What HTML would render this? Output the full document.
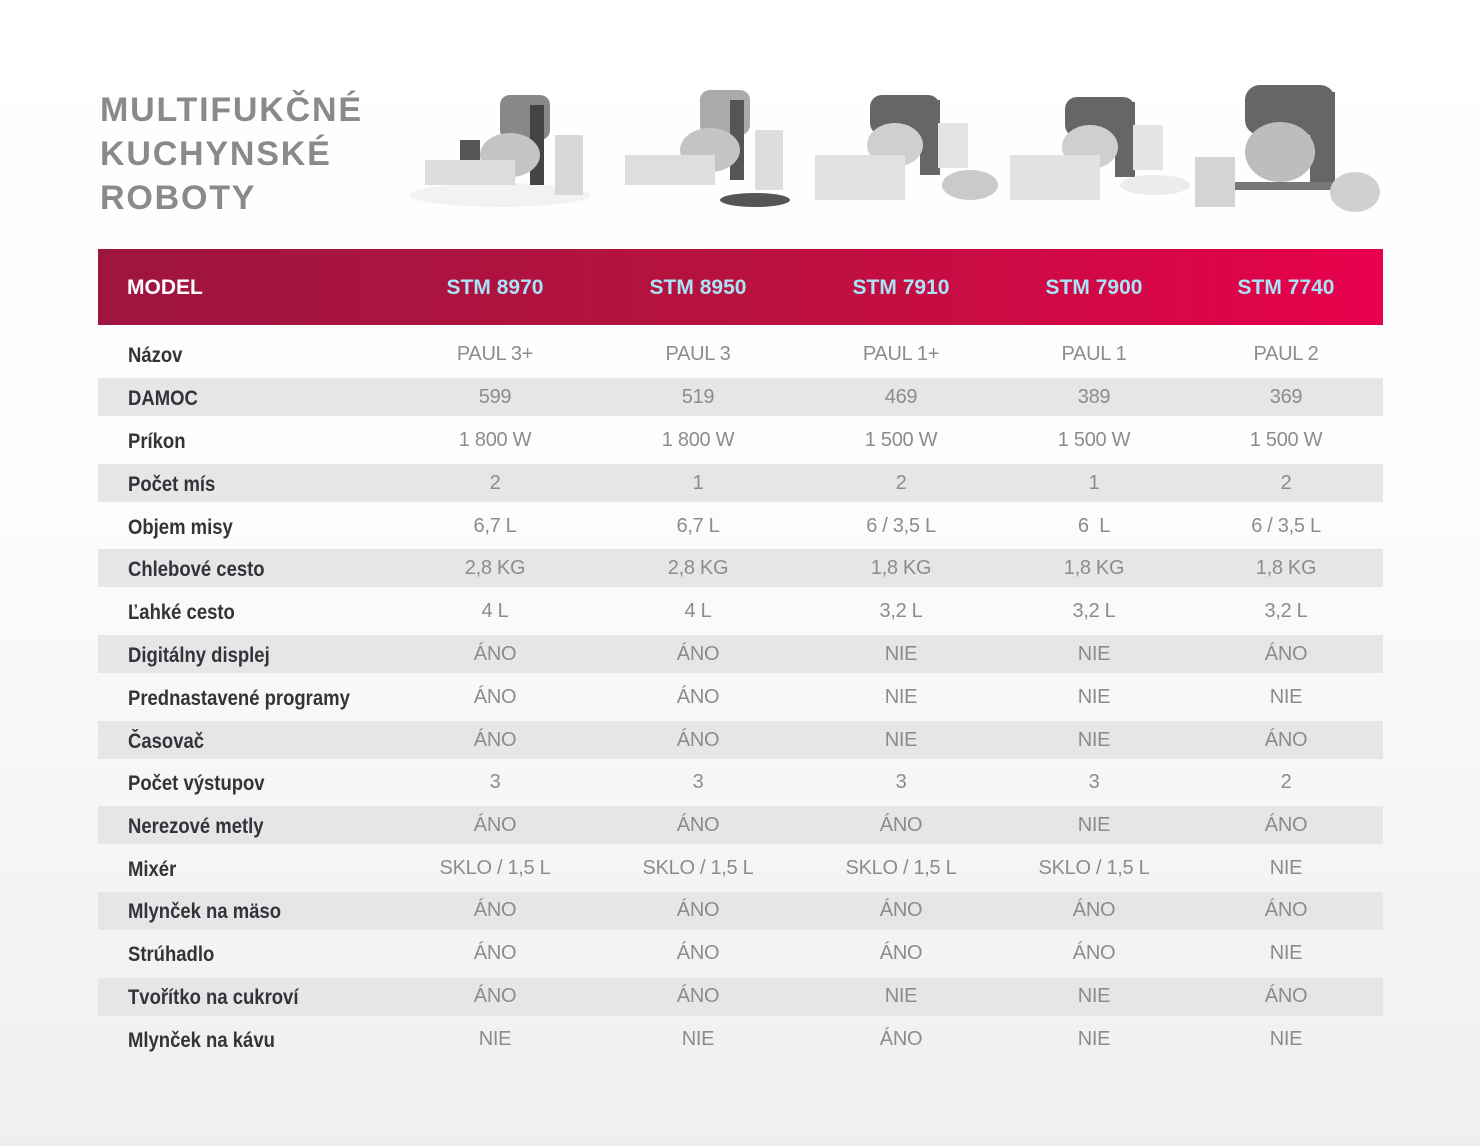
<!DOCTYPE html>
<html><head><meta charset="utf-8"><style>
*{margin:0;padding:0;box-sizing:border-box}
body{width:1480px;height:1146px;overflow:hidden;background:linear-gradient(#ffffff 0%,#fdfdfd 40%,#efefef 100%);font-family:"Liberation Sans",sans-serif;position:relative}
.t{position:absolute;left:100px;color:#8a8a8a;font-weight:bold;font-size:34px;letter-spacing:1.8px;line-height:44px}
.hdr{position:absolute;left:98px;top:249px;width:1285px;height:76px;background:linear-gradient(90deg,#9e1540 0%,#b8123f 50%,#e8004c 100%)}
.hdr div{position:absolute;top:0;line-height:78px;font-weight:bold;font-size:21px;color:#a9e3f7;transform:translateX(-50%)}
.band{position:absolute;left:98px;width:1285px;height:38px;background:#e5e6e7}
.r{position:absolute;left:0;width:1480px;height:30px}
.r .l{position:absolute;left:128px;top:0;font-weight:bold;font-size:21px;color:#333338;line-height:30px;transform:scaleX(0.88);transform-origin:left center;white-space:nowrap}
.r .v{position:absolute;top:-2px;font-size:20px;color:#8c8c8c;transform:translateX(-50%);white-space:nowrap;line-height:30px;letter-spacing:-0.3px}
.img{position:absolute;top:85px}
</style></head><body>
<div class="t" style="top:88px">MULTIFUKČNÉ</div>
<div class="t" style="top:132px">KUCHYNSKÉ</div>
<div class="t" style="top:176px">ROBOTY</div>

<svg class="img" style="left:405px" width="190" height="130"><ellipse cx="95" cy="110" rx="90" ry="12" fill="#f2f2f2"/><rect x="95" y="10" width="50" height="45" rx="10" fill="#888"/><rect x="125" y="20" width="14" height="80" fill="#444"/><ellipse cx="105" cy="70" rx="30" ry="22" fill="#c4c4c4"/><rect x="150" y="50" width="28" height="60" fill="#d8d8d8"/><rect x="55" y="55" width="20" height="25" fill="#555"/><rect x="20" y="75" width="90" height="25" fill="#dcdcdc"/></svg>
<svg class="img" style="left:605px" width="190" height="130"><ellipse cx="150" cy="115" rx="35" ry="7" fill="#555"/><rect x="95" y="5" width="50" height="45" rx="10" fill="#aaa"/><rect x="125" y="15" width="14" height="80" fill="#555"/><ellipse cx="105" cy="65" rx="30" ry="22" fill="#c4c4c4"/><rect x="150" y="45" width="28" height="60" fill="#ddd"/><rect x="20" y="70" width="90" height="30" fill="#dedede"/></svg>
<svg class="img" style="left:810px" width="190" height="130"><rect x="60" y="10" width="70" height="40" rx="12" fill="#666"/><rect x="110" y="15" width="20" height="75" fill="#666"/><ellipse cx="85" cy="60" rx="28" ry="22" fill="#cfcfcf"/><rect x="128" y="38" width="30" height="45" fill="#e4e4e4"/><ellipse cx="160" cy="100" rx="28" ry="15" fill="#cacaca"/><rect x="5" y="70" width="90" height="45" fill="#e2e2e2"/></svg>
<svg class="img" style="left:1005px" width="190" height="130"><rect x="60" y="12" width="70" height="40" rx="12" fill="#666"/><rect x="110" y="17" width="20" height="75" fill="#666"/><ellipse cx="85" cy="62" rx="28" ry="22" fill="#cfcfcf"/><rect x="128" y="40" width="30" height="45" fill="#e4e4e4"/><ellipse cx="150" cy="100" rx="35" ry="10" fill="#ececec"/><rect x="5" y="70" width="90" height="45" fill="#e2e2e2"/></svg>
<svg class="img" style="left:1190px;top:82px" width="195" height="135"><rect x="55" y="3" width="90" height="50" rx="15" fill="#666"/><rect x="120" y="10" width="25" height="95" fill="#666"/><ellipse cx="90" cy="70" rx="35" ry="30" fill="#bdbdbd"/><rect x="40" y="100" width="110" height="8" fill="#777"/><rect x="5" y="75" width="40" height="50" fill="#d4d4d4"/><ellipse cx="165" cy="110" rx="25" ry="20" fill="#d0d0d0"/></svg>

<div class="hdr">
<div style="left:29px;transform:none;color:#fff">MODEL</div>
<div style="left:397px">STM 8970</div>
<div style="left:600px">STM 8950</div>
<div style="left:803px">STM 7910</div>
<div style="left:996px">STM 7900</div>
<div style="left:1188px">STM 7740</div>
</div>

<div class="band" style="top:378px"></div>
<div class="band" style="top:464px"></div>
<div class="band" style="top:549px"></div>
<div class="band" style="top:635px"></div>
<div class="band" style="top:721px"></div>
<div class="band" style="top:806px"></div>
<div class="band" style="top:892px"></div>
<div class="band" style="top:978px"></div>

<div class="r" style="top:341px"><div class="l">Názov</div><div class="v" style="left:495px">PAUL 3+</div><div class="v" style="left:698px">PAUL 3</div><div class="v" style="left:901px">PAUL 1+</div><div class="v" style="left:1094px">PAUL 1</div><div class="v" style="left:1286px">PAUL 2</div></div>
<div class="r" style="top:384px"><div class="l">DAMOC</div><div class="v" style="left:495px">599</div><div class="v" style="left:698px">519</div><div class="v" style="left:901px">469</div><div class="v" style="left:1094px">389</div><div class="v" style="left:1286px">369</div></div>
<div class="r" style="top:427px"><div class="l">Príkon</div><div class="v" style="left:495px">1 800 W</div><div class="v" style="left:698px">1 800 W</div><div class="v" style="left:901px">1 500 W</div><div class="v" style="left:1094px">1 500 W</div><div class="v" style="left:1286px">1 500 W</div></div>
<div class="r" style="top:470px"><div class="l">Počet mís</div><div class="v" style="left:495px">2</div><div class="v" style="left:698px">1</div><div class="v" style="left:901px">2</div><div class="v" style="left:1094px">1</div><div class="v" style="left:1286px">2</div></div>
<div class="r" style="top:513px"><div class="l">Objem misy</div><div class="v" style="left:495px">6,7 L</div><div class="v" style="left:698px">6,7 L</div><div class="v" style="left:901px">6 / 3,5 L</div><div class="v" style="left:1094px">6&nbsp; L</div><div class="v" style="left:1286px">6 / 3,5 L</div></div>
<div class="r" style="top:555px"><div class="l">Chlebové cesto</div><div class="v" style="left:495px">2,8 KG</div><div class="v" style="left:698px">2,8 KG</div><div class="v" style="left:901px">1,8 KG</div><div class="v" style="left:1094px">1,8 KG</div><div class="v" style="left:1286px">1,8 KG</div></div>
<div class="r" style="top:598px"><div class="l">Ľahké cesto</div><div class="v" style="left:495px">4 L</div><div class="v" style="left:698px">4 L</div><div class="v" style="left:901px">3,2 L</div><div class="v" style="left:1094px">3,2 L</div><div class="v" style="left:1286px">3,2 L</div></div>
<div class="r" style="top:641px"><div class="l">Digitálny displej</div><div class="v" style="left:495px">ÁNO</div><div class="v" style="left:698px">ÁNO</div><div class="v" style="left:901px">NIE</div><div class="v" style="left:1094px">NIE</div><div class="v" style="left:1286px">ÁNO</div></div>
<div class="r" style="top:684px"><div class="l">Prednastavené programy</div><div class="v" style="left:495px">ÁNO</div><div class="v" style="left:698px">ÁNO</div><div class="v" style="left:901px">NIE</div><div class="v" style="left:1094px">NIE</div><div class="v" style="left:1286px">NIE</div></div>
<div class="r" style="top:727px"><div class="l">Časovač</div><div class="v" style="left:495px">ÁNO</div><div class="v" style="left:698px">ÁNO</div><div class="v" style="left:901px">NIE</div><div class="v" style="left:1094px">NIE</div><div class="v" style="left:1286px">ÁNO</div></div>
<div class="r" style="top:769px"><div class="l">Počet výstupov</div><div class="v" style="left:495px">3</div><div class="v" style="left:698px">3</div><div class="v" style="left:901px">3</div><div class="v" style="left:1094px">3</div><div class="v" style="left:1286px">2</div></div>
<div class="r" style="top:812px"><div class="l">Nerezové metly</div><div class="v" style="left:495px">ÁNO</div><div class="v" style="left:698px">ÁNO</div><div class="v" style="left:901px">ÁNO</div><div class="v" style="left:1094px">NIE</div><div class="v" style="left:1286px">ÁNO</div></div>
<div class="r" style="top:855px"><div class="l">Mixér</div><div class="v" style="left:495px">SKLO / 1,5 L</div><div class="v" style="left:698px">SKLO / 1,5 L</div><div class="v" style="left:901px">SKLO / 1,5 L</div><div class="v" style="left:1094px">SKLO / 1,5 L</div><div class="v" style="left:1286px">NIE</div></div>
<div class="r" style="top:897px"><div class="l">Mlynček na mäso</div><div class="v" style="left:495px">ÁNO</div><div class="v" style="left:698px">ÁNO</div><div class="v" style="left:901px">ÁNO</div><div class="v" style="left:1094px">ÁNO</div><div class="v" style="left:1286px">ÁNO</div></div>
<div class="r" style="top:940px"><div class="l">Strúhadlo</div><div class="v" style="left:495px">ÁNO</div><div class="v" style="left:698px">ÁNO</div><div class="v" style="left:901px">ÁNO</div><div class="v" style="left:1094px">ÁNO</div><div class="v" style="left:1286px">NIE</div></div>
<div class="r" style="top:983px"><div class="l">Tvořítko na cukroví</div><div class="v" style="left:495px">ÁNO</div><div class="v" style="left:698px">ÁNO</div><div class="v" style="left:901px">NIE</div><div class="v" style="left:1094px">NIE</div><div class="v" style="left:1286px">ÁNO</div></div>
<div class="r" style="top:1026px"><div class="l">Mlynček na kávu</div><div class="v" style="left:495px">NIE</div><div class="v" style="left:698px">NIE</div><div class="v" style="left:901px">ÁNO</div><div class="v" style="left:1094px">NIE</div><div class="v" style="left:1286px">NIE</div></div>
</body></html>
